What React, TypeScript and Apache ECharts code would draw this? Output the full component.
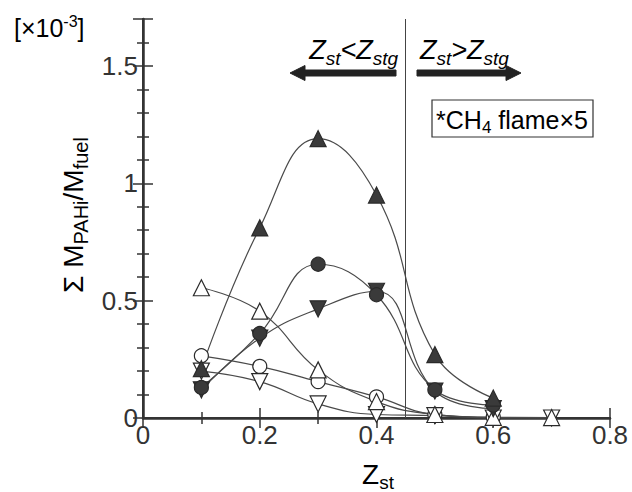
import React, { useEffect, useRef } from "react";
import * as echarts from "echarts";

// ---- data ----
const zst = [0.1, 0.2, 0.3, 0.4, 0.5, 0.6, 0.7];
const filledUp = [0.21, 0.81, 1.19, 0.95, 0.27, 0.085];
const filledCircle = [0.13, 0.36, 0.655, 0.525, 0.12, 0.055];
const filledDown = [0.12, 0.34, 0.465, 0.54, 0.115, 0.04];
const openUp = [0.555, 0.455, 0.205, 0.07, 0.015, 0.003, 0.002];
const openCircle = [0.265, 0.22, 0.155, 0.09, 0.015, 0.004];
const openDown = [0.2, 0.155, 0.06, 0.015, 0.01, 0.0, 0.0];
const xTickLabels = ["0", "0.2", "0.4", "0.6", "0.8"];
const yTickLabels = ["0", "0.5", "1", "1.5"];
const zstg = 0.45;
const xMax = 0.8;
const yMax = 1.7;

const FONT = "'Liberation Sans', Arial, Helvetica, sans-serif";
const INK = "#333";
const LINE = "#4a4a4a";
const FILL = "#3a3a3a";

const pairs = (vals: number[]) => vals.map((v, i) => [zst[i], v]);

export default function App() {
  const ref = useRef<HTMLDivElement>(null);

  useEffect(() => {
    if (!ref.current) return;
    const chart = echarts.init(ref.current, undefined, { renderer: "svg" });

    const axisCommon = {
      axisLine: { show: true, lineStyle: { color: INK, width: 2 } },
      axisTick: { show: true, inside: true, length: 10, lineStyle: { color: INK, width: 1.5 } },
      minorTick: { show: true, length: 6, lineStyle: { color: INK, width: 1.5 } },
      splitLine: { show: false },
      minorSplitLine: { show: false },
    };

    const mkSeries = (
      vals: number[],
      symbol: string,
      size: number,
      filled: boolean,
      rotate = 0,
      extra: any = {}
    ) => ({
      type: "line",
      data: pairs(vals),
      smooth: 0.45,
      clip: false,
      symbol,
      symbolSize: size,
      symbolRotate: rotate,
      showAllSymbol: true,
      lineStyle: { color: LINE, width: 1.2 },
      itemStyle: {
        color: filled ? FILL : "#fff",
        borderColor: "#2a2a2a",
        borderWidth: 1.2,
      },
      emphasis: { disabled: true },
      ...extra,
    });

    const rich = {
      m: { fontFamily: FONT, fontSize: 27, lineHeight: 30, color: "#222" },
      s: { fontFamily: FONT, fontSize: 19, lineHeight: 30, padding: [16, 0, 0, 0], color: "#222" },
      i: { fontFamily: FONT, fontSize: 27, fontStyle: "italic", lineHeight: 30, color: "#222" },
      is: { fontFamily: FONT, fontSize: 19, fontStyle: "italic", lineHeight: 30, padding: [16, 0, 0, 0], color: "#222" },
    };

    chart.setOption({
      animation: false,
      backgroundColor: "#fff",
      grid: { left: 143, right: 22, top: 19, bottom: 74, containLabel: false },
      xAxis: [
        {
          type: "value",
          min: 0,
          max: xMax,
          interval: 0.2,
          position: "bottom",
          ...axisCommon,
          axisLine: { show: true, lineStyle: { color: INK, width: 2.5 } },
          minorTick: { ...axisCommon.minorTick, splitNumber: 2 },
          axisLabel: {
            show: true,
            margin: 4,
            fontFamily: FONT,
            fontSize: 26,
            color: "#333",
            formatter: (v: number) => xTickLabels[Math.round(v / 0.2)] ?? "",
          },
        },
        {
          type: "value",
          min: 0,
          max: xMax,
          interval: 0.2,
          position: "top",
          ...axisCommon,
          minorTick: { ...axisCommon.minorTick, splitNumber: 2 },
          axisLabel: { show: false },
        },
      ],
      yAxis: [
        {
          type: "value",
          min: 0,
          max: yMax,
          interval: 0.5,
          position: "left",
          ...axisCommon,
          axisLine: { show: true, lineStyle: { color: INK, width: 2.5 } },
          minorTick: { ...axisCommon.minorTick, splitNumber: 5 },
          axisLabel: {
            show: true,
            margin: 5,
            fontFamily: FONT,
            fontSize: 26,
            color: "#333",
            showMaxLabel: false,
            formatter: (v: number) => {
              const k = Math.round(v / 0.5);
              return Math.abs(k * 0.5 - v) < 1e-6 ? yTickLabels[k] ?? "" : "";
            },
          },
        },
        {
          type: "value",
          min: 0,
          max: yMax,
          interval: 0.5,
          position: "right",
          ...axisCommon,
          minorTick: { ...axisCommon.minorTick, splitNumber: 5 },
          axisLabel: { show: false },
        },
      ],
      series: [
        mkSeries(openCircle, "circle", 14, false),
        mkSeries(openDown, "triangle", 16, false, 180),
        mkSeries(openUp, "triangle", 16, false),
        mkSeries(filledDown, "triangle", 16, true, 180),
        mkSeries(filledCircle, "circle", 14, true),
        mkSeries(filledUp, "triangle", 16, true, 0, {
          markLine: {
            silent: true,
            symbol: ["none", "none"],
            label: { show: false },
            lineStyle: { color: "#444", width: 1, type: "solid" },
            data: [{ xAxis: zstg }],
          },
        }),
      ],
      graphic: [
        // [x10^-3]
        {
          type: "text",
          x: 14,
          y: 28,
          style: {
            text: "{m|[×10}{sup|-3}{m|]}",
            align: "left",
            verticalAlign: "middle",
            rich: {
              m: { fontFamily: FONT, fontSize: 25, lineHeight: 30, color: "#333" },
              sup: { fontFamily: FONT, fontSize: 16, lineHeight: 30, padding: [0, 0, 14, 0], color: "#333" },
            },
          },
        },
        // y-axis name
        {
          type: "text",
          x: 73,
          y: 215,
          rotation: Math.PI / 2,
          style: {
            text: "{m|Σ M}{s|PAHi}{m|/M}{s|fuel}",
            align: "center",
            verticalAlign: "middle",
            rich: {
              m: { fontFamily: FONT, fontSize: 28, lineHeight: 30, color: "#333" },
              s: { fontFamily: FONT, fontSize: 20, lineHeight: 30, padding: [16, 0, 0, 0], color: "#333" },
            },
          },
        },
        // x-axis name
        {
          type: "text",
          x: 378,
          y: 474,
          style: {
            text: "{m|Z}{s|st}",
            align: "center",
            verticalAlign: "middle",
            rich: {
              m: { fontFamily: FONT, fontSize: 28, lineHeight: 30, color: "#333" },
              s: { fontFamily: FONT, fontSize: 19, lineHeight: 30, padding: [16, 0, 0, 0], color: "#333" },
            },
          },
        },
        // Zst<Zstg
        {
          type: "text",
          x: 398,
          y: 50,
          style: {
            text: "{i|Z}{is|st}{i|<Z}{is|stg}",
            align: "right",
            verticalAlign: "middle",
            rich,
          },
        },
        // Zst>Zstg
        {
          type: "text",
          x: 420,
          y: 50,
          style: {
            text: "{i|Z}{is|st}{i|>Z}{is|stg}",
            align: "left",
            verticalAlign: "middle",
            rich,
          },
        },
        // left arrow
        {
          type: "polygon",
          shape: {
            points: [
              [290, 73], [305, 65.5], [305, 70], [396, 70], [396, 76], [305, 76], [305, 80.5],
            ],
          },
          style: { fill: "#222", stroke: "#222", lineWidth: 1, lineJoin: "round" },
        },
        // right arrow
        {
          type: "polygon",
          shape: {
            points: [
              [417, 70], [506, 70], [506, 65.5], [521, 73], [506, 80.5], [506, 76], [417, 76],
            ],
          },
          style: { fill: "#222", stroke: "#222", lineWidth: 1, lineJoin: "round" },
        },
        // CH4 box
        {
          type: "rect",
          shape: { x: 432, y: 100, width: 161, height: 37 },
          style: { fill: "#fff", stroke: "#333", lineWidth: 1.2 },
          z: 10,
        },
        {
          type: "text",
          x: 512,
          y: 120,
          z: 11,
          style: {
            text: "{m|*CH}{s|4}{m| flame×5}",
            align: "center",
            verticalAlign: "middle",
            rich: {
              m: { fontFamily: FONT, fontSize: 25, lineHeight: 28, color: "#222" },
              s: { fontFamily: FONT, fontSize: 17, lineHeight: 28, padding: [14, 0, 0, 0], color: "#222" },
            },
          },
        },
      ],
    });

    return () => chart.dispose();
  }, []);

  return (
    <div
      ref={ref}
      style={{ position: "fixed", left: 0, top: 0, width: 632, height: 492, background: "#fff" }}
    />
  );
}
